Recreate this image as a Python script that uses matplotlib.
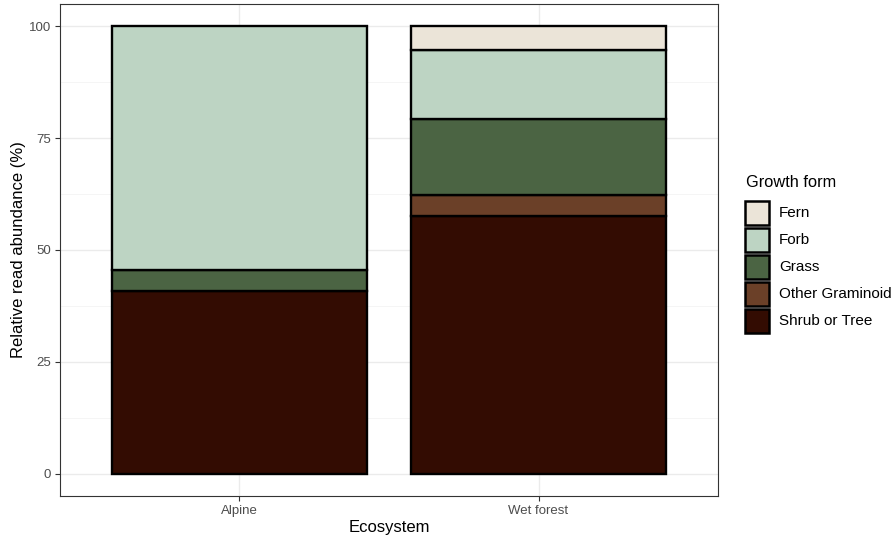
import matplotlib.pyplot as plt
from matplotlib.patches import Rectangle
import numpy as np

plt.rcParams['font.family'] = ['Liberation Sans', 'DejaVu Sans']

ecosystems = ["Alpine", "Wet forest"]
growth_forms = ["Shrub or Tree", "Other Graminoid", "Grass", "Forb", "Fern"]
abundance = {
    "Shrub or Tree": [40.9, 57.7],
    "Other Graminoid": [0.0, 4.5],
    "Grass": [4.6, 17.2],
    "Forb": [54.5, 15.3],
    "Fern": [0.0, 5.3],
}
colors = {
    "Shrub or Tree": "#330c02",
    "Other Graminoid": "#6b4028",
    "Grass": "#4b6443",
    "Forb": "#bdd4c3",
    "Fern": "#ebe4d8",
}

W, H = 893, 537
fig = plt.figure(figsize=(W / 100, H / 100), dpi=100)
ax = fig.add_axes([60 / W, (H - 496) / H, (718 - 60) / W, (496 - 4) / H])

x = np.arange(1, len(ecosystems) + 1)
bottom = np.zeros(len(ecosystems))
for gf in growth_forms:
    vals = np.array(abundance[gf])
    mask = vals > 0
    ax.bar(x[mask], vals[mask], bottom=bottom[mask], width=0.85,
           color=colors[gf], edgecolor="black", linewidth=1.7, zorder=3)
    bottom += vals

ax.set_xlim(0.4, 2.6)
ax.set_ylim(-5, 105)
ax.set_xticks(x)
ax.set_xticklabels(ecosystems)
ax.set_yticks([0, 25, 50, 75, 100])
ax.set_yticks([12.5, 37.5, 62.5, 87.5], minor=True)
ax.grid(True, which="major", color="#ebebeb", linewidth=1.0, zorder=0)
ax.grid(True, which="minor", axis="y", color="#f4f4f4", linewidth=0.6, zorder=0)
ax.tick_params(axis="both", which="major", colors="#333333", labelcolor="#4d4d4d",
               labelsize=9.5, length=3.5, width=0.8, pad=3)
ax.tick_params(axis="y", which="minor", length=0)
for s in ax.spines.values():
    s.set_color("#333333")
    s.set_linewidth(0.8)

ax.set_xlabel("Ecosystem", fontsize=12, labelpad=2)
ax.set_ylabel("Relative read abundance (%)", fontsize=12, labelpad=2)

# legend drawn by hand so the keys come out the same size as ggplot's
fig.text(746 / W, 1 - 183 / H, "Growth form", fontsize=11.8, va="center", ha="left")
key_w, key_h, pitch = 24, 24, 27
y0 = 213
for i, g in enumerate(reversed(growth_forms)):
    yc = y0 + i * pitch
    fig.add_artist(Rectangle((745 / W, 1 - (yc + key_h / 2) / H), key_w / W, key_h / H,
                             transform=fig.transFigure, facecolor=colors[g],
                             edgecolor="black", linewidth=1.8))
    fig.text(779 / W, 1 - yc / H, g, fontsize=11, va="center", ha="left")

fig.savefig("out.png", dpi=100)
